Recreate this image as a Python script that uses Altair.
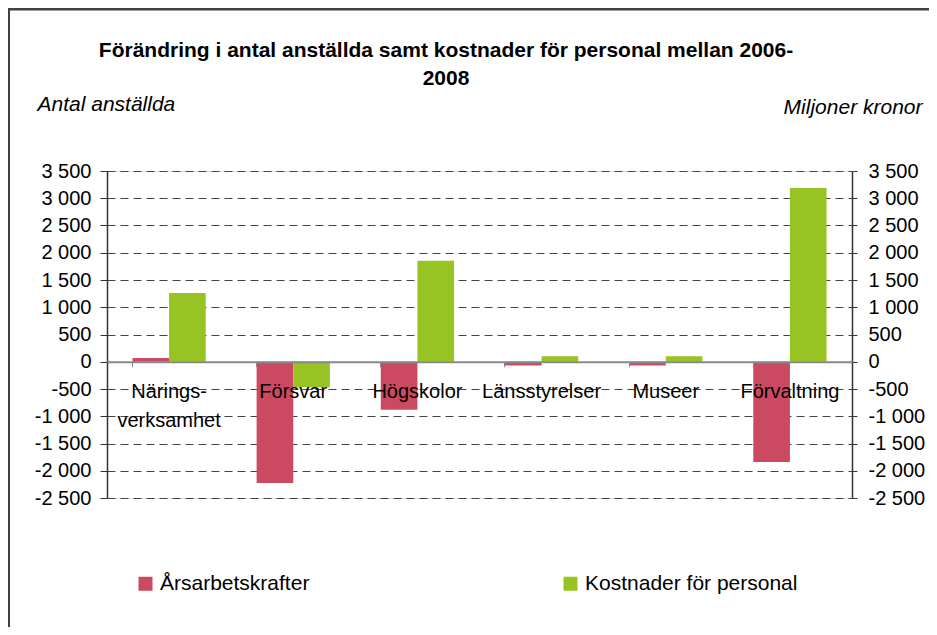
import altair as alt
import pandas as pd

# ---- data ----
categories = ["Näringsverksamhet", "Försvar", "Högskolor", "Länsstyrelser", "Museer", "Förvaltning"]
series_names = ["Årsarbetskrafter", "Kostnader för personal"]
arsarbetskrafter = [70, -2225, -880, -70, -70, -1840]
kostnader = [1260, -470, 1855, 100, 100, 3190]
tick_values = [-2500, -2000, -1500, -1000, -500, 0, 500, 1000, 1500, 2000, 2500, 3000, 3500]
colors = ["#CB4A61", "#97C323"]
title_lines = "Förändring i antal anställda samt kostnader för personal mellan 2006-\n2008"
left_title = "Antal anställda"
right_title = "Miljoner kronor"

rows = []
for c, v in zip(categories, arsarbetskrafter):
    rows.append({"cat": c, "series": series_names[0], "value": v})
for c, v in zip(categories, kostnader):
    rows.append({"cat": c, "series": series_names[1], "value": v})
df = pd.DataFrame(rows)
one = pd.DataFrame({"t": [title_lines]})

W, H = 745, 327
FONT = "Liberation Sans"
ymin, ymax = -2500, 3500
zero_from_bottom = H * (0 - ymin) / (ymax - ymin)

yscale = alt.Scale(domain=[ymin, ymax], nice=False, zero=False)
xscale = alt.Scale(domain=categories, paddingInner=0.41, paddingOuter=0.205)
num_expr = "(datum.value < 0 ? '-' : '') + replace(format(abs(datum.value), ','), ',', ' ')"

x_axis = alt.Axis(
    orient="bottom", offset=-zero_from_bottom, title=None, zindex=1,
    domainColor="#888888", domainWidth=2,
    ticks=True, tickColor="#888888", tickSize=5, bandPosition=0,
    labels=True, labelAngle=0, labelPadding=15,
    labelFontSize=20, labelColor="#000000", labelFont=FONT, labelLineHeight=29,
    labelOverlap=False, labelBound=False, labelFlush=False, labelLimit=300,
    labelExpr="datum.label == 'Näringsverksamhet' ? ['Närings-', 'verksamhet'] : datum.label",
    grid=False,
)

left_axis = alt.Axis(
    orient="left", values=tick_values, labelExpr=num_expr,
    labelFontSize=20, labelColor="#000000", labelFont=FONT, labelPadding=9,
    tickSize=7, tickColor="#333333", domainColor="#333333", domainWidth=1.5,
    grid=True, gridDash=[8, 5], gridColor="#444444", gridWidth=1,
    title=left_title, titleAngle=0, titleFontStyle="italic", titleFontWeight="normal",
    titleFontSize=21, titleFont=FONT, titleColor="#000000",
    titleX=-70, titleY=-67, titleAlign="left", titleBaseline="middle",
)

right_axis = alt.Axis(
    orient="right", values=tick_values, labelExpr=num_expr,
    labelFontSize=20, labelColor="#000000", labelFont=FONT, labelPadding=11,
    tickSize=5, tickColor="#333333", domainColor="#333333", domainWidth=1.5,
    grid=False,
    title=right_title, titleAngle=0, titleFontStyle="italic", titleFontWeight="normal",
    titleFontSize=21, titleFont=FONT, titleColor="#000000",
    titleX=70, titleY=-64, titleAlign="right", titleBaseline="middle",
)

bars = alt.Chart(df).mark_bar().encode(
    x=alt.X("cat:N", scale=xscale, sort=categories, axis=x_axis),
    xOffset=alt.XOffset("series:N", sort=series_names,
                        scale=alt.Scale(domain=series_names, paddingInner=0, paddingOuter=0)),
    y=alt.Y("value:Q", scale=yscale, axis=left_axis),
    color=alt.Color("series:N", scale=alt.Scale(domain=series_names, range=colors),
                    legend=alt.Legend(
                        orient="none", legendX=28, legendY=402, direction="horizontal",
                        columns=2, columnPadding=250, title=None,
                        symbolType="square", symbolSize=196, symbolStrokeWidth=0,
                        symbolOpacity=1, labelFontSize=21, labelFont=FONT,
                        labelColor="#000000", labelOffset=4, labelLimit=400)),
)

right = alt.Chart(df).mark_rule(opacity=0).encode(
    y=alt.Y("value:Q", scale=yscale, axis=right_axis),
)

title_text = alt.Chart(one).mark_text(
    font=FONT, fontSize=21, fontWeight="bold", align="center", baseline="alphabetic",
    lineBreak="\n", lineHeight=28, color="#000000",
).encode(x=alt.value(339), y=alt.value(-114), text="t:N")

frame_top = alt.Chart(one).mark_rule(color="#404040", strokeWidth=3).encode(
    x=alt.value(-98), x2=alt.value(830), y=alt.value(-162))
frame_left = alt.Chart(one).mark_rule(color="#404040", strokeWidth=2).encode(
    x=alt.value(-98), y=alt.value(-163), y2=alt.value(460))

chart = alt.layer(bars, right, title_text, frame_top, frame_left).resolve_axis(
    y="independent"
).properties(
    width=W, height=H,
    autosize=alt.AutoSizeParams(type="none"),
    padding={"left": 99, "top": 163, "right": 77, "bottom": 129},
).configure_view(stroke=None).configure(font=FONT)

chart.save("out.html", embed_options={"renderer": "svg", "actions": False})
